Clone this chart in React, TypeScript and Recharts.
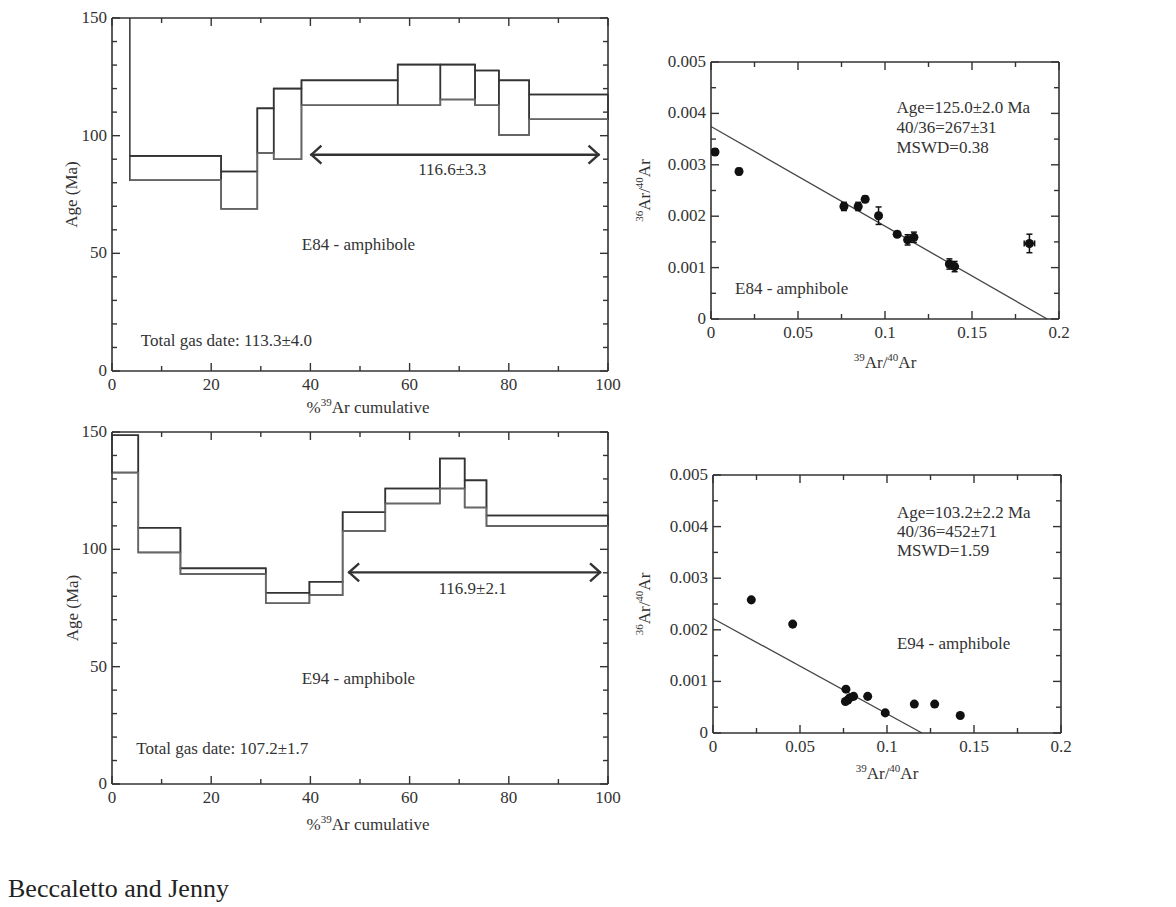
import React from "react";
import {
  ComposedChart,
  Line,
  XAxis,
  YAxis,
  ZAxis,
  ReferenceArea,
  ReferenceLine,
  ReferenceDot,
  Label,
  ScatterChart,
  Scatter,
  ErrorBar,
} from "recharts";

const FONT = "'Liberation Serif', 'DejaVu Serif', serif";
const INK = "#333";

// E84 step heating spectrum: step boundaries (% 39Ar cumulative) and age envelope (Ma)
const e84StepEdges = [3.6, 22.0, 29.3, 32.6, 38.2, 57.6, 66.2, 73.2, 78.0, 84.1, 100];
const e84AgeHigh = [91.4, 84.8, 111.6, 120.0, 123.5, 130.2, 130.2, 127.7, 123.5, 117.5];
const e84AgeLow = [81.1, 68.9, 92.6, 90.0, 112.9, 112.9, 115.4, 112.9, 100.3, 107.0];

// E94 step heating spectrum
const e94StepEdges = [0, 5.3, 13.8, 31.0, 39.8, 46.5, 55.1, 66.1, 71.1, 75.5, 100];
const e94AgeHigh = [148.6, 109.2, 91.9, 81.5, 86.2, 115.8, 125.9, 138.7, 129.4, 114.4];
const e94AgeLow = [132.7, 98.7, 89.5, 77.0, 80.5, 107.8, 119.5, 125.9, 117.8, 109.9];

const ageTicks = [0, 10, 20, 30, 40, 50, 60, 70, 80, 90, 100, 110, 120, 130, 140, 150];
const cumTicks = [0, 10, 20, 30, 40, 50, 60, 70, 80, 90, 100];

// E84 isochron: 39Ar/40Ar vs 36Ar/40Ar
const e84Ar39 = [0.0023, 0.0161, 0.0764, 0.0846, 0.0886, 0.0963, 0.107, 0.113, 0.1166, 0.137, 0.140, 0.183];
const e84Ar36 = [0.00325, 0.00287, 0.00219, 0.00219, 0.00233, 0.00201, 0.00165, 0.00154, 0.00159, 0.00107, 0.00102, 0.00147];
const e84Ar39Err = [0.001, 0.001, 0.0012, 0.0012, 0.0012, 0.0012, 0.0012, 0.0015, 0.0015, 0.0015, 0.0015, 0.003];
const e84Ar36Err = [0.00006, 0.00006, 0.00008, 0.00008, 0.00006, 0.00017, 0.00005, 0.0001, 0.0001, 0.0001, 0.0001, 0.00018];
const e84Isochron = [0.003745, 0.1932]; // y intercept, x intercept

// E94 isochron
const e94Ar39 = [0.022, 0.0458, 0.0764, 0.0761, 0.0775, 0.0785, 0.0808, 0.0889, 0.099, 0.1157, 0.1274, 0.1421];
const e94Ar36 = [0.00258, 0.00211, 0.00085, 0.00061, 0.00064, 0.00068, 0.00071, 0.00071, 0.00039, 0.00056, 0.00056, 0.00034];
const e94Isochron = [0.00222, 0.1201];

const ratioXTicks = [0, 0.025, 0.05, 0.075, 0.1, 0.125, 0.15, 0.175, 0.2];
const ratioYTicks = [0, 0.0005, 0.001, 0.0015, 0.002, 0.0025, 0.003, 0.0035, 0.004, 0.0045, 0.005];

const isMajor = (v: number, step: number) => Math.abs(v / step - Math.round(v / step)) < 1e-6;
const tickLen = (v: number, step: number) => (isMajor(v, step) ? 8 : 5);

const textStyle = { fontFamily: FONT, fontSize: 17, fill: INK };

const bottomTick = (step: number) => (p: any) => {
  const v = p.payload.value;
  return (
    <g>
      <line x1={p.x} x2={p.x} y1={p.y} y2={p.y - tickLen(v, step)} stroke={INK} strokeWidth={1.4} />
      {isMajor(v, step) && (
        <text x={p.x} y={p.y + 19} textAnchor="middle" {...textStyle}>
          {String(v)}
        </text>
      )}
    </g>
  );
};

const leftTick = (step: number) => (p: any) => {
  const v = p.payload.value;
  return (
    <g>
      <line x1={p.x} x2={p.x + tickLen(v, step)} y1={p.y} y2={p.y} stroke={INK} strokeWidth={1.4} />
      {isMajor(v, step) && (
        <text x={p.x - 5} y={p.y + 5} textAnchor="end" {...textStyle}>
          {String(v)}
        </text>
      )}
    </g>
  );
};

// inward ticks on the top and right edges of the frame
const mirrorTicks = (xTicks: number[], xStep: number, yTicks: number[], yStep: number) => [
  ...xTicks.map((v) => (
    <ReferenceLine
      key={`mx${v}`}
      x={v}
      shape={(p: any) => {
        const y = Math.min(p.y1, p.y2);
        return <line x1={p.x1} x2={p.x1} y1={y} y2={y + tickLen(v, xStep)} stroke={INK} strokeWidth={1.4} />;
      }}
    />
  )),
  ...yTicks.map((v) => (
    <ReferenceLine
      key={`my${v}`}
      y={v}
      shape={(p: any) => {
        const x = Math.max(p.x1, p.x2);
        return <line x1={x} x2={x - tickLen(v, yStep)} y1={p.y1} y2={p.y1} stroke={INK} strokeWidth={1.4} />;
      }}
    />
  )),
];

// superscript-aware title: parts alternate [normal, sup, normal, sup, ...]
const renderParts = (parts: string[]) =>
  parts.map((s, i) =>
    i % 2 === 1 ? (
      <tspan key={i} dy={-7} fontSize={11}>
        {s}
      </tspan>
    ) : (
      <tspan key={i} dy={i === 0 ? 0 : 7}>
        {s}
      </tspan>
    )
  );

const xTitle = (parts: string[], dy: number, dx = 0) => (props: any) => {
  const vb = props.viewBox || { x: 0, y: 0, width: 0 };
  return (
    <text x={vb.x + vb.width / 2 + dx} y={vb.y + dy + 6} textAnchor="middle" {...textStyle}>
      {renderParts(parts)}
    </text>
  );
};

const yTitle = (parts: string[], dx: number) => (props: any) => {
  const vb = props.viewBox || { x: 0, y: 0, width: 0, height: 0 };
  const x = vb.x + vb.width - dx;
  const y = vb.y + vb.height / 2;
  return (
    <text x={x} y={y} dy={6} textAnchor="middle" transform={`rotate(-90, ${x}, ${y})`} {...textStyle}>
      {renderParts(parts)}
    </text>
  );
};

const arrowShape = (p: any) => {
  const { x1, y1, x2, y2 } = p;
  return (
    <g fill="none" stroke={INK} strokeWidth={2.4}>
      <line x1={x1} y1={y1} x2={x2} y2={y2} />
      <polyline points={`${x1 + 11},${y1 - 9} ${x1 + 1},${y1} ${x1 + 11},${y1 + 9}`} />
      <polyline points={`${x2 - 11},${y2 - 9} ${x2 - 1},${y2} ${x2 - 11},${y2 + 9}`} />
    </g>
  );
};

const note = (key: string, x: number, y: number, text: string, anchor: "start" | "middle") => (
  <ReferenceDot
    key={key}
    x={x}
    y={y}
    r={0}
    fill="none"
    stroke="none"
    ifOverflow="visible"
    label={{ value: text, position: anchor === "start" ? "right" : "center", offset: 0, ...textStyle }}
  />
);

const axisLine = { stroke: INK, strokeWidth: 1.6 };

type Box = { left: number; top: number; width: number; height: number; margin: any; yw: number; xh: number; xdy: number; ydx: number };

function Spectrum(props: {
  box: Box;
  edges: number[];
  high: number[];
  low: number[];
  offScaleFirst?: boolean;
  plateau: [number, number, number];
  plateauText: [number, number, string];
  sample: [number, number, string];
  totalGas: [number, number, string];
}) {
  const { box, edges, high, low } = props;
  const rows = edges.map((x, i) => ({
    x,
    hi: high[Math.min(i, high.length - 1)],
    lo: low[Math.min(i, low.length - 1)],
  }));
  return (
    <div style={{ position: "absolute", left: box.left, top: box.top }}>
      <ComposedChart width={box.width} height={box.height} data={rows} margin={box.margin}>
        <XAxis type="number" dataKey="x" domain={[0, 100]} ticks={cumTicks} interval={0} tickSize={0} tickMargin={0}
          tick={bottomTick(20)} height={box.xh} axisLine={axisLine} tickLine={false} allowDataOverflow>
          <Label content={xTitle(["%", "39", "Ar cumulative"], box.xdy, 8)} />
        </XAxis>
        <YAxis type="number" domain={[0, 150]} ticks={ageTicks} interval={0} tickSize={0} tickMargin={0}
          tick={leftTick(50)} width={box.yw} axisLine={axisLine} tickLine={false} allowDataOverflow>
          <Label content={yTitle(["Age (Ma)"], box.ydx)} />
        </YAxis>
        <ReferenceLine y={150} stroke={INK} strokeWidth={1.6} />
        <ReferenceLine x={100} stroke={INK} strokeWidth={1.6} />
        {mirrorTicks(cumTicks, 20, ageTicks, 50)}
        {high.map((h, i) => (
          <ReferenceArea key={`b${i}`} x1={edges[i]} x2={edges[i + 1]} y1={low[i]} y2={h} fill="none"
            stroke={INK} strokeWidth={1.5} ifOverflow="visible" />
        ))}
        {props.offScaleFirst && (
          <ReferenceLine segment={[{ x: edges[0], y: high[0] }, { x: edges[0], y: 150 }]} stroke={INK} strokeWidth={1.5} />
        )}
        <Line type="stepAfter" dataKey="hi" stroke={INK} strokeWidth={1.6} dot={false} isAnimationActive={false} />
        <Line type="stepAfter" dataKey="lo" stroke="#666" strokeWidth={1.6} dot={false} isAnimationActive={false} />
        <ReferenceLine
          segment={[{ x: props.plateau[0], y: props.plateau[2] }, { x: props.plateau[1], y: props.plateau[2] }]}
          shape={arrowShape}
        />
        {note("pt", props.plateauText[0], props.plateauText[1], props.plateauText[2], "middle")}
        {note("sm", props.sample[0], props.sample[1], props.sample[2], "middle")}
        {note("tg", props.totalGas[0], props.totalGas[1], props.totalGas[2], "start")}
      </ComposedChart>
    </div>
  );
}

function Isochron(props: {
  box: Box;
  xs: number[];
  ys: number[];
  ex?: number[];
  ey?: number[];
  line: number[];
  stats: [number, number[], string[]];
  sample: [number, number, string];
}) {
  const { box, xs, ys, ex, ey } = props;
  const pts = xs.map((x, i) => ({ x, y: ys[i], ex: ex ? ex[i] : 0, ey: ey ? ey[i] : 0 }));
  return (
    <div style={{ position: "absolute", left: box.left, top: box.top }}>
      <ScatterChart width={box.width} height={box.height} margin={box.margin}>
        <XAxis type="number" dataKey="x" domain={[0, 0.2]} ticks={ratioXTicks} interval={0} tickSize={0} tickMargin={0}
          tick={bottomTick(0.05)} height={box.xh} axisLine={axisLine} tickLine={false} allowDataOverflow>
          <Label content={xTitle(["", "39", "Ar/", "40", "Ar"], box.xdy)} />
        </XAxis>
        <YAxis type="number" dataKey="y" domain={[0, 0.005]} ticks={ratioYTicks} interval={0} tickSize={0} tickMargin={0}
          tick={leftTick(0.001)} width={box.yw} axisLine={axisLine} tickLine={false} allowDataOverflow>
          <Label content={yTitle(["", "36", "Ar/", "40", "Ar"], box.ydx)} />
        </YAxis>
        <ZAxis range={[85, 85]} />
        <ReferenceLine y={0.005} stroke={INK} strokeWidth={1.6} />
        <ReferenceLine x={0.2} stroke={INK} strokeWidth={1.6} />
        {mirrorTicks(ratioXTicks, 0.05, ratioYTicks, 0.001)}
        <ReferenceLine
          segment={[{ x: 0, y: props.line[0] }, { x: props.line[1], y: 0 }]}
          stroke="#444"
          strokeWidth={1.3}
        />
        <Scatter data={pts} fill="#111" isAnimationActive={false}>
          {ex && <ErrorBar dataKey="ex" direction="x" width={3} stroke="#111" strokeWidth={1.5} />}
          {ey && <ErrorBar dataKey="ey" direction="y" width={3} stroke="#111" strokeWidth={1.5} />}
        </Scatter>
        {props.stats[2].map((t, i) => note(`s${i}`, props.stats[0], props.stats[1][i], t, "start"))}
        {note("sm", props.sample[0], props.sample[1], props.sample[2], "start")}
      </ScatterChart>
    </div>
  );
}

export default function App() {
  return (
    <div style={{ position: "absolute", left: 0, top: 0, width: 1176, height: 907, background: "#fff" }}>
      <Spectrum
        box={{ left: 0, top: 0, width: 630, height: 420, margin: { top: 18, right: 22, bottom: 0, left: 62 }, yw: 50, xh: 49, xdy: 36, ydx: 35 }}
        edges={e84StepEdges}
        high={e84AgeHigh}
        low={e84AgeLow}
        offScaleFirst
        plateau={[40.0, 98.3, 91.9]}
        plateauText={[68.6, 85.8, "116.6±3.3"]}
        sample={[49.7, 54, "E84 - amphibole"]}
        totalGas={[5.8, 13.1, "Total gas date: 113.3±4.0"]}
      />
      <Spectrum
        box={{ left: 0, top: 410, width: 630, height: 430, margin: { top: 22, right: 22, bottom: 0, left: 62 }, yw: 50, xh: 56, xdy: 40, ydx: 34 }}
        edges={e94StepEdges}
        high={e94AgeHigh}
        low={e94AgeLow}
        plateau={[47.6, 98.6, 90.2]}
        plateauText={[72.7, 83.4, "116.9±2.1"]}
        sample={[49.7, 45.1, "E94 - amphibole"]}
        totalGas={[4.9, 15.3, "Total gas date: 107.2±1.7"]}
      />
      <Isochron
        box={{ left: 630, top: 30, width: 450, height: 360, margin: { top: 32, right: 21, bottom: 0, left: 21 }, yw: 60, xh: 71, xdy: 43, ydx: 61 }}
        xs={e84Ar39}
        ys={e84Ar36}
        ex={e84Ar39Err}
        ey={e84Ar36Err}
        line={e84Isochron}
        stats={[0.1066, [0.00413, 0.00373, 0.00334], ["Age=125.0±2.0 Ma", "40/36=267±31", "MSWD=0.38"]]}
        sample={[0.0138, 0.0006, "E84 - amphibole"]}
      />
      <Isochron
        box={{ left: 630, top: 440, width: 450, height: 360, margin: { top: 35, right: 19, bottom: 0, left: 23 }, yw: 60, xh: 67, xdy: 40, ydx: 63 }}
        xs={e94Ar39}
        ys={e94Ar36}
        line={e94Isochron}
        stats={[0.1057, [0.00429, 0.00392, 0.00355], ["Age=103.2±2.2 Ma", "40/36=452±71", "MSWD=1.59"]]}
        sample={[0.1057, 0.00174, "E94 - amphibole"]}
      />
      <div style={{ position: "absolute", left: 8, top: 874, fontFamily: FONT, fontSize: 26, color: "#222" }}>
        Beccaletto and Jenny
      </div>
    </div>
  );
}
